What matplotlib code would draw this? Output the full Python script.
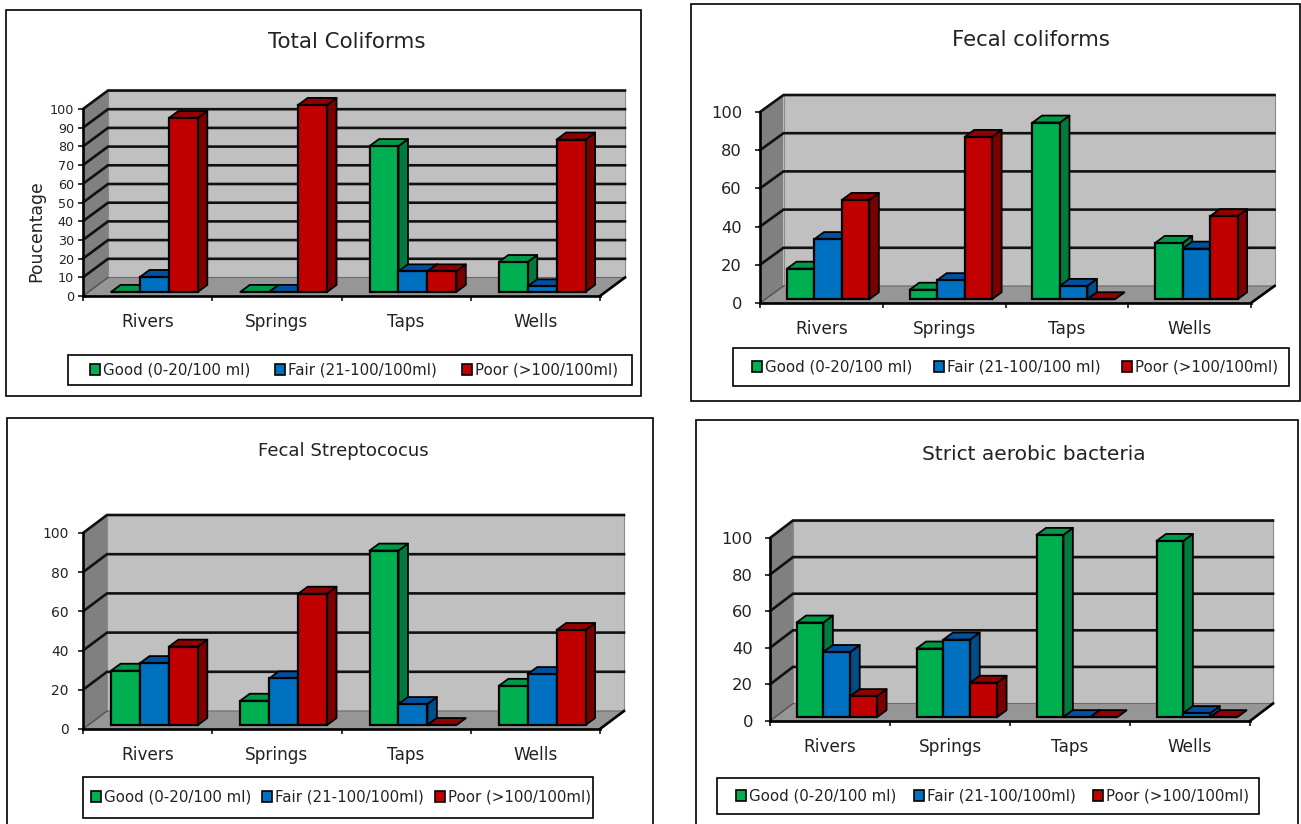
import matplotlib
matplotlib.use('Agg')
import matplotlib.pyplot as plt
from matplotlib.patches import Polygon, Rectangle, Patch

W, H = 1301, 824

sites = ['Rivers', 'Springs', 'Taps', 'Wells']
classes = ['Good (0-20/100 ml)', 'Fair (21-100/100ml)', 'Poor (>100/100ml)']
classes_fecal = ['Good (0-20/100 ml)', 'Fair (21-100/100 ml)', 'Poor (>100/100ml)']

# percentage of samples per site
total_good = [0, 0, 78, 16]
total_fair = [8, 0, 11, 3]
total_poor = [93, 100, 11, 81.5]

fecal_good = [16, 5, 92.5, 29.5]
fecal_fair = [31.5, 10, 7, 26.5]
fecal_poor = [52, 85, 0, 43.5]

strep_good = [27.7, 12.4, 89, 20]
strep_fair = [31.6, 23.8, 10.7, 26]
strep_poor = [40, 67, 0, 48.5]

aero_good = [51.7, 37.5, 99.6, 96.3]
aero_fair = [35.6, 42.4, 0, 2.2]
aero_poor = [11.5, 18.8, 0, 0]

# face, top, side
green = ('#00B050', '#009A46', '#007A3D')
blue = ('#0070C0', '#00509E', '#004E88')
red = ('#C00000', '#900000', '#7C0000')
shades = [green, blue, red]


def fx(x):
    return x / W


def fy(y):
    return 1 - y / H


def box(fig, x0, y0, x1, y1, lw):
    # zorder below the axes so the frame stays behind the chart
    fig.add_artist(Rectangle((fx(x0), fy(y1)), fx(x1 - x0), (y1 - y0) / H, transform=fig.transFigure,
                             facecolor='white', edgecolor='black', linewidth=lw, zorder=-1))


def chart(fig, series, title, frame, plot, depth, title_xy, title_size, tick_size, tick_pad, step,
          legend_box, legend_fit, labels, ylabel=None):
    box(fig, *frame, 1.2)
    px0, py0, px1, py1 = plot
    ax = fig.add_axes([fx(px0), fy(py0), fx(px1 - px0), (py0 - py1) / H])
    ax.set_xlim(0, 4)
    ax.set_ylim(0, 100)
    ax.patch.set_visible(False)

    # pixel sizes turned into data units
    ux = 4 / (px1 - px0)
    uy = 100 / (py0 - py1)
    dx, dy = depth[0] * ux, depth[1] * uy

    # walls and floor
    ax.add_patch(Polygon([(dx, dy), (4 + dx, dy), (4 + dx, 100 + dy), (dx, 100 + dy)], fc='#C0C0C0', ec='#8a8a8a',
                         lw=0.8, clip_on=False, zorder=1))
    ax.add_patch(Polygon([(0, 0), (dx, dy), (dx, 100 + dy), (0, 100)], fc='#808080', ec='none', clip_on=False, zorder=1))
    ax.add_patch(Polygon([(0, 0), (4, 0), (4 + dx, dy), (dx, dy)], fc='#969696', ec='#6a6a6a', lw=0.8, clip_on=False,
                         zorder=1))

    for v in range(step, 100 + step, step):
        ax.plot([0, dx, 4 + dx], [v, v + dy, v + dy], color='#111111', lw=1.9, clip_on=False, zorder=2,
                solid_joinstyle='miter')
    ax.plot([0, dx], [0, dy], color='#555555', lw=1, clip_on=False, zorder=2)
    ax.plot([4, 4 + dx], [0, dy], color='black', lw=1.9, clip_on=False, zorder=2)

    # bars: front face from ax.bar, top and side as parallelograms
    bw = 1 / 4.47
    ox, oy = 6.8 * ux, 0.22 * dy
    bx, by = 9.5 * ux, 7 * uy
    z = 3
    for i in range(len(sites)):
        left = i + 0.5 - 1.5 * bw + ox
        for j, values in enumerate(series):
            v = values[i]
            x = left + j * bw
            face, top, side = shades[j]
            ax.add_patch(Polygon([(x + bw, oy), (x + bw + bx, oy + by), (x + bw + bx, oy + by + v), (x + bw, oy + v)],
                                 fc=side, ec='black', lw=1.3, clip_on=False, zorder=z, joinstyle='round'))
            ax.add_patch(Polygon([(x, oy + v), (x + bw, oy + v), (x + bw + bx, oy + v + by), (x + bx, oy + v + by)],
                                 fc=top, ec='black', lw=1.3, clip_on=False, zorder=z, joinstyle='round'))
            ax.bar(x, v, bw, bottom=oy, align='edge', color=face, edgecolor='black', linewidth=1.6, clip_on=False,
                   zorder=z + 0.5)
            z += 1

    for s in ['top', 'right']:
        ax.spines[s].set_visible(False)
    for s in ['left', 'bottom']:
        ax.spines[s].set_linewidth(1.9)
        ax.spines[s].set_zorder(2.5)

    ax.set_yticks(range(0, 100 + step, step))
    ax.tick_params(axis='y', labelsize=tick_size, length=3.5, width=1.1, pad=tick_pad, labelcolor='#222222')
    ax.set_xticks(range(5))
    ax.set_xticklabels([])
    ax.tick_params(axis='x', length=3.5, width=1.1)
    ax.set_xticks([0.5, 1.5, 2.5, 3.5], minor=True)
    ax.set_xticklabels(sites, minor=True, fontsize=12.2, color='#222222')
    ax.tick_params(axis='x', which='minor', length=0, pad=12)
    if ylabel:
        ax.set_ylabel(ylabel, fontsize=12.4, color='#222222', labelpad=3.2, y=0.348)

    fig.text(fx(title_xy[0]), fy(title_xy[1]), title, fontsize=title_size, color='#222222', ha='center', va='center')

    box(fig, *legend_box, 1.2)
    handles = [Patch(facecolor=shades[k][0], edgecolor='black', linewidth=1.2, label=labels[k]) for k in range(3)]
    lx0, lx1 = legend_fit
    ly0, ly1 = legend_box[1], legend_box[3]
    fig.legend(handles=handles, loc='center', ncol=3, mode='expand', frameon=False, fontsize=10.8,
               bbox_to_anchor=(fx(lx0), fy(ly1), fx(lx1 - lx0), (ly1 - ly0) / H), handlelength=0.65,
               handleheight=0.75, handletextpad=0.2, columnspacing=0.6, borderpad=0, borderaxespad=0,
               labelcolor='#222222')


fig = plt.figure(figsize=(W / 100, H / 100), dpi=100, facecolor='white')

chart(fig, [total_good, total_fair, total_poor], 'Total Coliforms',
      (5.5, 9.5, 641, 396), (83, 296, 600, 109), (25, 18.5), (347, 41.5), 15.4, 9.2, 3, 10,
      (68, 355, 632, 385), (90, 618), classes, ylabel='Poucentage')
chart(fig, [fecal_good, fecal_fair, fecal_poor], 'Fecal coliforms',
      (691, 4, 1300, 401), (760, 303, 1251, 112), (23.5, 17), (1031, 40), 15.3, 11.7, 9.5, 20,
      (733, 348, 1289, 386), (752, 1278), classes_fecal)
chart(fig, [strep_good, strep_fair, strep_poor], 'Fecal Streptococus',
      (7, 418, 653, 835), (83, 729, 600, 533), (24, 18), (343, 451), 13.1, 10, 6.6, 20,
      (83, 777, 593, 818), (91, 591), classes)
chart(fig, [aero_good, aero_fair, aero_poor], 'Strict aerobic bacteria',
      (696, 420, 1298, 835), (770, 721, 1250, 538), (23, 17.5), (1034, 454), 14.5, 11.8, 8.8, 20,
      (717, 778, 1259, 814), (736, 1249), classes)

fig.savefig('out.png', dpi=100, facecolor='white')
